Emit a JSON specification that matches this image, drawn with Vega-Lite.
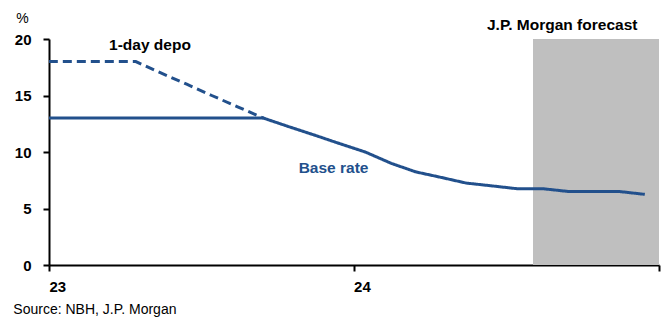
{
  "$schema": "https://vega.github.io/schema/vega-lite/v6.json",
  "autosize": {"type": "none"},
  "width": 610,
  "height": 226,
  "padding": {"left": 49, "top": 39, "right": 5, "bottom": 55},
  "background": "white",
  "config": {
    "view": {"stroke": null},
    "font": "Liberation Sans, Arial",
    "axis": {"grid": false, "domainColor": "black", "tickColor": "black", "domainWidth": 2, "tickWidth": 2, "labelColor": "black", "labelFont": "Liberation Sans", "labelFontWeight": "bold", "labelFontSize": 15}
  },
  "title": {
    "text": "Source: NBH, J.P. Morgan",
    "orient": "bottom",
    "anchor": "start",
    "offset": 9,
    "dx": -1,
    "font": "Liberation Sans",
    "fontSize": 14,
    "fontWeight": "normal",
    "color": "black"
  },
  "layer": [
    {
      "data": {"values": [{"start": "2024-08-03", "end": "2025-01-01", "lo": 0, "hi": 20}]},
      "mark": {"type": "rect", "color": "#BFBFBF"},
      "encoding": {
        "x": {"field": "start", "type": "temporal"},
        "x2": {"field": "end"},
        "y": {"field": "lo", "type": "quantitative"},
        "y2": {"field": "hi"}
      }
    },
    {
      "data": {"values": [
        {"date": "2022-12-15", "series": "Base rate", "value": 13},
        {"date": "2023-01-15", "series": "Base rate", "value": 13},
        {"date": "2023-02-15", "series": "Base rate", "value": 13},
        {"date": "2023-03-15", "series": "Base rate", "value": 13},
        {"date": "2023-04-15", "series": "Base rate", "value": 13},
        {"date": "2023-05-15", "series": "Base rate", "value": 13},
        {"date": "2023-06-15", "series": "Base rate", "value": 13},
        {"date": "2023-07-15", "series": "Base rate", "value": 13},
        {"date": "2023-08-15", "series": "Base rate", "value": 13},
        {"date": "2023-09-15", "series": "Base rate", "value": 13},
        {"date": "2023-10-15", "series": "Base rate", "value": 12.25},
        {"date": "2023-11-15", "series": "Base rate", "value": 11.5},
        {"date": "2023-12-15", "series": "Base rate", "value": 10.75},
        {"date": "2024-01-15", "series": "Base rate", "value": 10.0},
        {"date": "2024-02-15", "series": "Base rate", "value": 9.0},
        {"date": "2024-03-15", "series": "Base rate", "value": 8.25},
        {"date": "2024-04-15", "series": "Base rate", "value": 7.75},
        {"date": "2024-05-15", "series": "Base rate", "value": 7.25},
        {"date": "2024-06-15", "series": "Base rate", "value": 7.0},
        {"date": "2024-07-15", "series": "Base rate", "value": 6.75},
        {"date": "2024-08-15", "series": "Base rate", "value": 6.75},
        {"date": "2024-09-15", "series": "Base rate", "value": 6.5},
        {"date": "2024-10-15", "series": "Base rate", "value": 6.5},
        {"date": "2024-11-15", "series": "Base rate", "value": 6.5},
        {"date": "2024-12-15", "series": "Base rate", "value": 6.25},
        {"date": "2022-12-15", "series": "1-day depo", "value": 18},
        {"date": "2023-01-15", "series": "1-day depo", "value": 18},
        {"date": "2023-02-15", "series": "1-day depo", "value": 18},
        {"date": "2023-03-15", "series": "1-day depo", "value": 18},
        {"date": "2023-04-15", "series": "1-day depo", "value": 18},
        {"date": "2023-05-15", "series": "1-day depo", "value": 17},
        {"date": "2023-06-15", "series": "1-day depo", "value": 16},
        {"date": "2023-07-15", "series": "1-day depo", "value": 15},
        {"date": "2023-08-15", "series": "1-day depo", "value": 14},
        {"date": "2023-09-15", "series": "1-day depo", "value": 13}
      ]},
      "mark": {"type": "line", "color": "#22508C", "strokeWidth": 3, "clip": true},
      "encoding": {
        "x": {
          "field": "date", "type": "temporal",
          "scale": {"type": "utc", "domain": [{"year": 2023, "month": 1, "date": 1, "utc": true}, {"year": 2025, "month": 1, "date": 1, "utc": true}]},
          "axis": {
            "title": null,
            "values": [{"year": 2023, "month": 1, "date": 1, "utc": true}, {"year": 2024, "month": 1, "date": 1, "utc": true}, {"year": 2025, "month": 1, "date": 1, "utc": true}],
            "labelExpr": "utcFormat(datum.value, '%Y') == '2025' ? '' : utcFormat(datum.value, '%y')",
            "labelAlign": "left",
            "labelDx": 2,
            "tickSize": 6,
            "labelPadding": 8,
            "labelFlush": false,
            "labelOverlap": false
          }
        },
        "y": {
          "field": "value", "type": "quantitative",
          "scale": {"domain": [0, 20], "nice": false},
          "axis": {
            "values": [0, 5, 10, 15, 20],
            "tickSize": 6,
            "labelPadding": 12,
            "title": "%",
            "titleAngle": 0,
            "titleAlign": "center",
            "titleBaseline": "bottom",
            "titleX": -27,
            "titleY": -14,
            "titleFont": "Liberation Sans",
            "titleFontWeight": "normal",
            "titleFontSize": 14
          }
        },
        "detail": {"field": "series"},
        "strokeDash": {
          "field": "series", "type": "nominal",
          "scale": {"domain": ["Base rate", "1-day depo"], "range": [[1, 0], [9, 5]]},
          "legend": null
        }
      }
    },
    {
      "data": {"values": [
        {"date": "2023-05-02", "value": 19.5, "label": "1-day depo", "kind": "black"},
        {"date": "2023-12-08", "value": 8.6, "label": "Base rate", "kind": "blue"},
        {"date": "2024-09-07", "value": 21.25, "label": "J.P. Morgan forecast", "kind": "black"}
      ]},
      "mark": {"type": "text", "fontWeight": "bold", "fontSize": 15.5, "font": "Liberation Sans", "align": "center", "baseline": "middle"},
      "encoding": {
        "x": {"field": "date", "type": "temporal"},
        "y": {"field": "value", "type": "quantitative"},
        "text": {"field": "label"},
        "color": {"field": "kind", "type": "nominal", "scale": {"domain": ["black", "blue"], "range": ["black", "#22508C"]}, "legend": null}
      }
    }
  ]
}
